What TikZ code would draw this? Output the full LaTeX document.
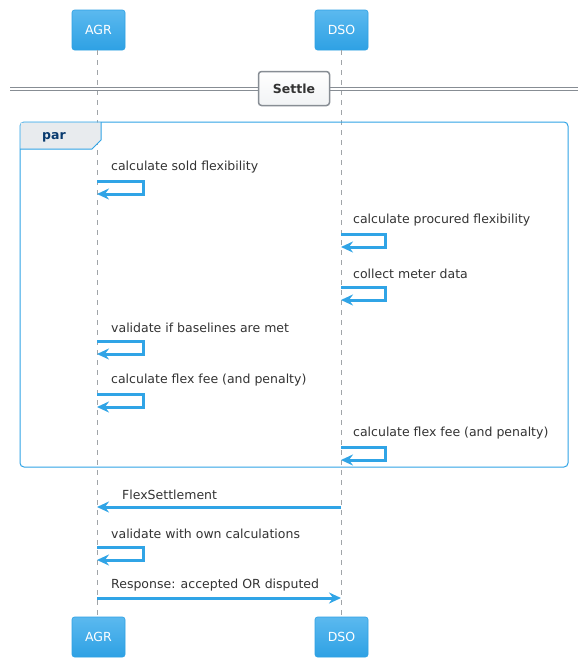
\documentclass[tikz,border=0pt]{standalone}
\usepackage{fontspec}
\setmainfont{DejaVu Sans}
\usetikzlibrary{arrows.meta}
\definecolor{umlblue}{HTML}{30A4E6}
\definecolor{boxtop}{HTML}{5BB9EF}
\definecolor{boxbot}{HTML}{2EA1E4}
\definecolor{txt}{HTML}{333333}
\definecolor{lifeg}{HTML}{A0A4A8}
\definecolor{divg}{HTML}{878D94}
\definecolor{tabfill}{HTML}{E8EBEE}
\definecolor{partxt}{HTML}{083A6E}
\tikzset{
  actor/.style={rounded corners=2.5pt, top color=boxtop, bottom color=boxbot, draw=boxbot, line width=0.6pt, text=white, font=\fontsize{12.5}{14}\selectfont, minimum width=53pt, minimum height=40pt, inner sep=0pt},
  lifeline/.style={draw=lifeg, dash pattern=on 5pt off 5pt, line width=0.6pt},
  msg/.style={draw=umlblue, line width=3pt, -{Stealth[length=12pt,width=11pt,inset=4pt]}},
  lbl/.style={text=txt, font=\fontsize{12.5}{14}\selectfont, anchor=west, inner sep=0pt},
}
\begin{document}
\begin{tikzpicture}[x=1pt,y=-1pt]
\useasboundingbox (0,0) rectangle (588,667);
\fill[white] (0,0) rectangle (588,667);
% actors
\node[actor] (agrT) at (98.5,30) {AGR};
\node[actor] (dsoT) at (341.5,30) {DSO};
\node[actor] (agrB) at (98.5,637) {AGR};
\node[actor] (dsoB) at (341.5,637) {DSO};
\draw[lifeline] (agrT.south -| 97,0) -- (agrB.north -| 97,0);
\draw[lifeline] (dsoT.south -| 341,0) -- (dsoB.north -| 341,0);
% divider
\draw[divg, line width=0.8pt] (10,87.5) -- (578,87.5);
\draw[divg, line width=0.8pt] (10,90.5) -- (578,90.5);
\node[draw=divg, line width=1.5pt, rounded corners=3pt, top color=white, bottom color=tabfill!60, minimum width=71pt, minimum height=34pt, inner sep=0pt, text=txt, font=\bfseries\fontsize{12.5}{14}\selectfont] (settle) at (294,88.5) {Settle};
% par frame
\draw[umlblue, line width=1pt, rounded corners=4pt] (20,122) rectangle (568,467);
\fill[tabfill] (20.5,122.5) -- (101,122.5) -- (101,140) -- (92,149) -- (20.5,149) -- cycle;
\draw[umlblue, line width=1pt] (101,122) -- (101,140) -- (92,149) -- (20,149);
\node[text=partxt, font=\bfseries\fontsize{12.5}{14}\selectfont, inner sep=0pt] (par) at (54,137) {par};
% self messages
\coordinate (a1) at (97,181); \coordinate (a1r) at (143,181); \coordinate (a1b) at (143,194); \coordinate (a1e) at (97,194);
\node[lbl] (l1) at (111,167.5) {calculate sold flexibility};
\draw[msg] (a1) -- (a1r) -- (a1b) -- (a1e);

\coordinate (d2) at (341,234); \coordinate (d2r) at (385,234); \coordinate (d2b) at (385,247); \coordinate (d2e) at (341,247);
\node[lbl] (l2) at (353,220.5) {calculate procured flexibility};
\draw[msg] (d2) -- (d2r) -- (d2b) -- (d2e);

\coordinate (d3) at (341,287); \coordinate (d3r) at (385,287); \coordinate (d3b) at (385,300); \coordinate (d3e) at (341,300);
\node[lbl] (l3) at (353,273.5) {collect meter data};
\draw[msg] (d3) -- (d3r) -- (d3b) -- (d3e);

\coordinate (a4) at (97,341); \coordinate (a4r) at (143,341); \coordinate (a4b) at (143,354); \coordinate (a4e) at (97,354);
\node[lbl] (l4) at (111,327.5) {validate if baselines are met};
\draw[msg] (a4) -- (a4r) -- (a4b) -- (a4e);

\coordinate (a5) at (97,394); \coordinate (a5r) at (143,394); \coordinate (a5b) at (143,407); \coordinate (a5e) at (97,407);
\node[lbl] (l5) at (111,380.5) {calculate flex fee (and penalty)};
\draw[msg] (a5) -- (a5r) -- (a5b) -- (a5e);

\coordinate (d6) at (341,447); \coordinate (d6r) at (385,447); \coordinate (d6b) at (385,460); \coordinate (d6e) at (341,460);
\node[lbl] (l6) at (353,433.5) {calculate flex fee (and penalty)};
\draw[msg] (d6) -- (d6r) -- (d6b) -- (d6e);

% FlexSettlement
\coordinate (d7) at (341,507); \coordinate (a7) at (97,507);
\node[lbl] (l7) at (122,494.5) {FlexSettlement};
\draw[msg] (d7) -- (a7);

\coordinate (a8) at (97,547); \coordinate (a8r) at (143,547); \coordinate (a8b) at (143,560); \coordinate (a8e) at (97,560);
\node[lbl] (l8) at (111,533.5) {validate with own calculations};
\draw[msg] (a8) -- (a8r) -- (a8b) -- (a8e);

\coordinate (a9) at (97,598); \coordinate (d9) at (341,598);
\node[lbl] (l9) at (111,585.5) {Response: accepted OR disputed};
\draw[msg] (a9) -- (d9);
\end{tikzpicture}
\end{document}
